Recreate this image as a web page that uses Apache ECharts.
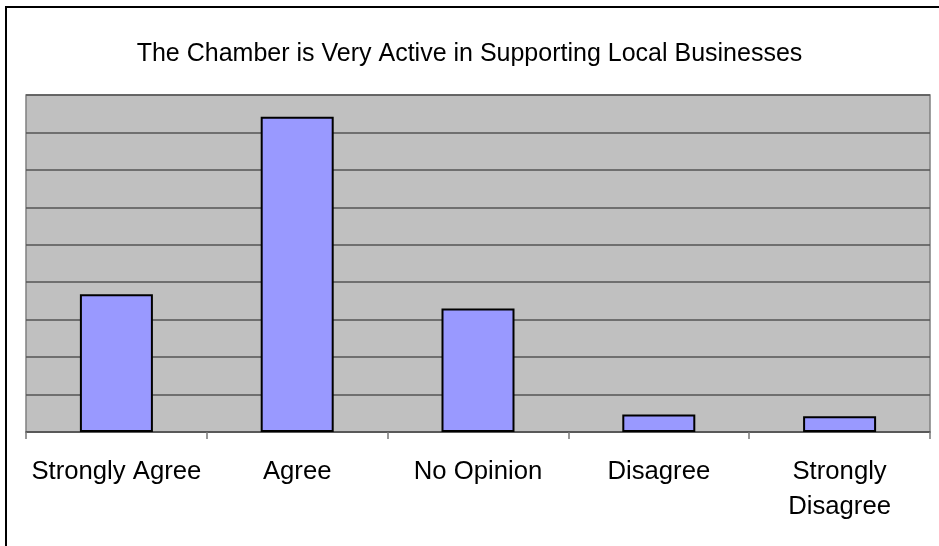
<!DOCTYPE html>
<html>
<head>
<meta charset="utf-8">
<script src="https://cdn.jsdelivr.net/npm/echarts@6/dist/echarts.min.js"></script>
<style>
  html, body { margin: 0; padding: 0; background: #ffffff; }
  #chart { width: 939px; height: 546px; }
</style>
</head>
<body>
<div id="chart"></div>
<script>
// Survey responses for the statement in the title
const chartTitle = 'The Chamber is Very Active in Supporting Local Businesses';
const categories = ['Strongly Agree', 'Agree', 'No Opinion', 'Disagree', 'Strongly\nDisagree'];
const responses = [18.4, 42.1, 16.5, 2.35, 2.1];
const axisMax = 45;
const axisStep = 5;

const chart = echarts.init(document.getElementById('chart'), null, { renderer: 'canvas' });

chart.setOption({
  animation: false,
  backgroundColor: '#ffffff',
  title: {
    text: chartTitle,
    left: 'center',
    top: 37,
    textStyle: {
      fontFamily: 'Liberation Sans, Arial, sans-serif',
      fontSize: 25,
      fontWeight: 'normal',
      color: '#000000'
    }
  },
  graphic: [
    {
      type: 'rect',
      shape: { x: 6, y: 7, width: 960, height: 560 },
      style: { fill: 'none', stroke: '#000000', lineWidth: 2 },
      silent: true,
      z: 100
    }
  ],
  grid: {
    left: 26,
    right: 9,
    top: 95,
    bottom: 114,
    show: true,
    backgroundColor: '#c0c0c0',
    borderColor: '#808080',
    borderWidth: 1.5
  },
  xAxis: {
    type: 'category',
    data: categories,
    axisLine: { show: true, lineStyle: { color: '#555555', width: 1.5 } },
    axisTick: { show: true, alignWithLabel: false, length: 7, lineStyle: { color: '#777777', width: 1.5 } },
    axisLabel: {
      fontFamily: 'Liberation Sans, Arial, sans-serif',
      fontSize: 25.7,
      color: '#000000',
      margin: 22,
      lineHeight: 35,
      interval: 0
    }
  },
  yAxis: {
    type: 'value',
    min: 0,
    max: axisMax,
    interval: axisStep,
    axisLine: { show: false },
    axisTick: { show: false },
    axisLabel: { show: false },
    splitLine: { show: true, lineStyle: { color: '#555555', width: 1.5 } }
  },
  series: [
    {
      type: 'bar',
      data: responses,
      barWidth: 73,
      itemStyle: {
        color: '#9999ff',
        borderColor: '#000000',
        borderWidth: 2
      }
    }
  ]
});
</script>
</body>
</html>
